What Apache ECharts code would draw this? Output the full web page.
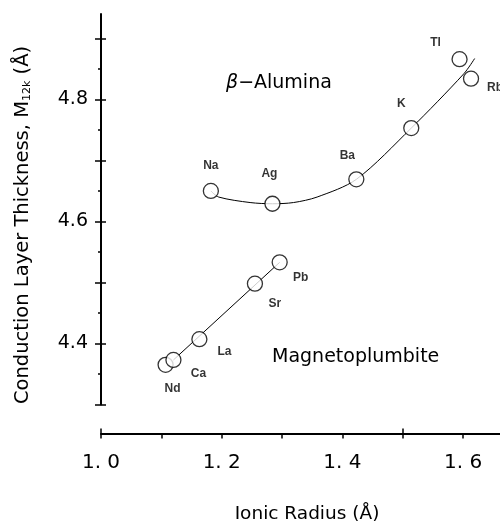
<!DOCTYPE html>
<html>
<head>
<meta charset="utf-8">
<style>
  html, body { margin: 0; padding: 0; background: #fff; }
  #chart { width: 500px; height: 524px; }
</style>
<script src="https://cdn.jsdelivr.net/npm/echarts@6/dist/echarts.min.js"></script>
</head>
<body>
<div id="chart"></div>
<script>
// beta-alumina ions
const aluminaIons = ['Na', 'Ag', 'Ba', 'K', 'Tl', 'Rb']
const aluminaRadius = [1.182, 1.284, 1.423, 1.514, 1.594, 1.613]
const aluminaThickness = [4.650, 4.629, 4.669, 4.753, 4.866, 4.834]

// magnetoplumbite ions
const magnetoIons = ['Nd', 'Ca', 'La', 'Sr', 'Pb']
const magnetoRadius = [1.107, 1.120, 1.163, 1.255, 1.296]
const magnetoThickness = [4.365, 4.373, 4.407, 4.498, 4.533]

// drawn fit curves
const aluminaFitRadius = [1.182, 1.195, 1.247, 1.284, 1.319, 1.358, 1.423, 1.514, 1.601, 1.619]
const aluminaFitThickness = [4.650, 4.640, 4.631, 4.629, 4.631, 4.640, 4.669, 4.753, 4.842, 4.867]
const magnetoFitRadius = [1.120, 1.296]
const magnetoFitThickness = [4.373, 4.533]

// ticks
const xTickValues = [1.0, 1.1, 1.2, 1.3, 1.4, 1.5, 1.6]
const xLabelValues = [1.0, 1.2, 1.4, 1.6]
const yTickValues = [4.3, 4.4, 4.5, 4.6, 4.7, 4.8, 4.9]
const yMinorValues = [4.35, 4.45, 4.55, 4.65, 4.75, 4.85]
const yLabelValues = [4.4, 4.6, 4.8]

// label offsets (px) relative to the circle centre
const aluminaLabelOffset = [[0, -25], [-3, -30], [-9, -24], [-10, -24], [-24, -16], [24, 9]]
const magnetoLabelOffset = [[7, 24], [25, 14], [25, 12], [20, 20], [21, 15]]

const font = 'DejaVu Sans, sans-serif'
const labelFont = 'Liberation Sans, Arial, sans-serif'
const chart = echarts.init(document.getElementById('chart'))

const pts = (xs, ys) => xs.map((x, i) => [x, ys[i]])
const labelled = (names, xs, ys, offs) => names.map((n, i) => ({
  name: n,
  value: [xs[i], ys[i]],
  label: { offset: offs[i] }
}))

const ionLabel = {
  show: true,
  position: 'inside',
  formatter: '{b}',
  color: '#000',
  fontFamily: labelFont,
  fontWeight: 'bold',
  fontSize: 12
}
const circle = {
  type: 'scatter',
  symbol: 'circle',
  symbolSize: 15,
  itemStyle: { color: '#fff', borderColor: '#000', borderWidth: 1.3 },
  label: ionLabel,
  z: 5
}

const option = {
  backgroundColor: '#fff',
  animation: false,
  grid: { left: 101, right: 0, top: 14, bottom: 119.5 },
  xAxis: [
    {
      type: 'value',
      position: 'bottom',
      min: 1.0,
      max: 1.661,
      offset: 29,
      axisLine: { lineStyle: { color: '#000', width: 2 } },
      axisTick: { customValues: xTickValues, length: 5, lineStyle: { color: '#000', width: 1.5 } },
      axisLabel: {
        customValues: xLabelValues,
        formatter: v => v.toFixed(1).replace('.', '. '),
        color: '#000',
        fontFamily: font,
        fontSize: 20,
        margin: 19
      },
      splitLine: { show: false }
    },
    {
      type: 'value',
      position: 'bottom',
      min: 1.0,
      max: 1.661,
      offset: 29,
      axisLine: { show: false },
      axisTick: { customValues: [1.0, 1.5], inside: true, length: 5, lineStyle: { color: '#000', width: 1.5 } },
      axisLabel: { show: false },
      splitLine: { show: false }
    }
  ],
  yAxis: [
    {
      type: 'value',
      position: 'left',
      min: 4.3,
      max: 4.94,
      axisLine: { show: true, lineStyle: { color: '#000', width: 2 } },
      axisTick: { customValues: yTickValues, length: 6, lineStyle: { color: '#000', width: 1.5 } },
      axisLabel: {
        customValues: yLabelValues,
        formatter: v => v.toFixed(1),
        color: '#000',
        fontFamily: font,
        fontSize: 19,
        margin: 13
      },
      splitLine: { show: false }
    },
    {
      type: 'value',
      position: 'left',
      min: 4.3,
      max: 4.94,
      axisLine: { show: false },
      axisTick: { customValues: yTickValues, inside: true, length: 5, lineStyle: { color: '#000', width: 1.5 } },
      axisLabel: { show: false },
      splitLine: { show: false }
    },
    {
      type: 'value',
      position: 'left',
      min: 4.3,
      max: 4.94,
      axisLine: { show: false },
      axisTick: { customValues: yMinorValues, length: 3, lineStyle: { color: '#000', width: 1.5 } },
      axisLabel: { show: false },
      splitLine: { show: false }
    }
  ],
  graphic: [
    {
      type: 'text',
      x: 23,
      y: 225,
      rotation: Math.PI / 2,
      style: {
        text: 'Conduction Layer Thickness, M{s|12k} (Å)',
        fill: '#000',
        font: '19.5px ' + font,
        align: 'center',
        verticalAlign: 'middle',
        rich: { s: { fontSize: 11, fontFamily: font, verticalAlign: 'bottom', padding: [8, 0, 0, 0] } }
      }
    },
    {
      type: 'text',
      x: 307,
      y: 514,
      style: {
        text: 'Ionic Radius (Å)',
        fill: '#000',
        font: '18.5px ' + font,
        align: 'center',
        verticalAlign: 'middle'
      }
    },
    {
      type: 'text',
      x: 226,
      y: 83,
      style: {
        text: '{b|β}−Alumina',
        fill: '#000',
        font: '19px ' + font,
        verticalAlign: 'middle',
        rich: { b: { fontStyle: 'italic', fontSize: 19, fontFamily: font } }
      }
    },
    {
      type: 'text',
      x: 272,
      y: 357,
      style: {
        text: 'Magnetoplumbite',
        fill: '#000',
        font: '19px ' + font,
        verticalAlign: 'middle'
      }
    }
  ],
  series: [
    {
      type: 'line',
      data: pts(aluminaFitRadius, aluminaFitThickness),
      smooth: 0.3,
      showSymbol: false,
      lineStyle: { color: '#000', width: 1 },
      z: 2
    },
    {
      type: 'line',
      data: pts(magnetoFitRadius, magnetoFitThickness),
      showSymbol: false,
      lineStyle: { color: '#000', width: 1 },
      z: 2
    },
    Object.assign({}, circle, { data: labelled(aluminaIons, aluminaRadius, aluminaThickness, aluminaLabelOffset) }),
    Object.assign({}, circle, { data: labelled(magnetoIons, magnetoRadius, magnetoThickness, magnetoLabelOffset) })
  ]
}

chart.setOption(option)
window.addEventListener('resize', () => chart.resize())
</script>
</body>
</html>
